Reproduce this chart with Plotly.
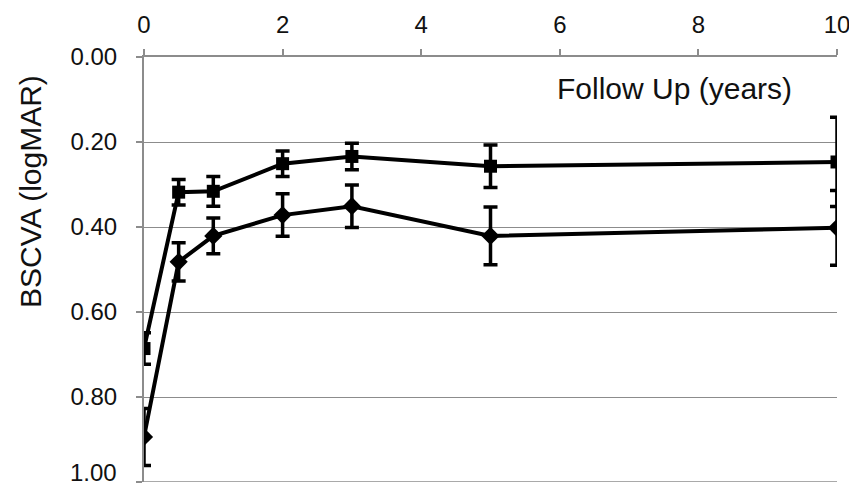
import plotly.graph_objects as go

years = [0, 0.5, 1, 2, 3, 5, 10]
square_vals = [0.686, 0.318, 0.316, 0.251, 0.234, 0.257, 0.247]
square_err = [0.037, 0.030, 0.035, 0.030, 0.031, 0.050, 0.105]
diamond_vals = [0.894, 0.482, 0.421, 0.372, 0.351, 0.421, 0.402]
diamond_err = [0.067, 0.045, 0.042, 0.050, 0.050, 0.068, 0.088]

x_ticks = [0, 2, 4, 6, 8, 10]
y_ticks = [0.0, 0.2, 0.4, 0.6, 0.8, 1.0]
y_ticktext = ["0.00", "0.20", "0.40", "0.60", "0.80", "1.00"]

FONT = "Liberation Sans, Arial, sans-serif"
GRID = "#8c8c8c"

# page offset from default body margin
OFF = 8
W, H = 857 - OFF, 492 - OFF
L, T = 144 - OFF, 57 - OFF
R = W - (837 - OFF)
B = H - (482 - OFF)

fig = go.Figure()
fig.add_trace(go.Scatter(
    x=years, y=diamond_vals, mode="lines+markers",
    line=dict(color="black", width=4),
    marker=dict(symbol="diamond", size=14, color="black"),
    error_y=dict(type="data", array=diamond_err, color="black", thickness=3.5, width=7),
    showlegend=False,
))
fig.add_trace(go.Scatter(
    x=years, y=square_vals, mode="lines+markers",
    line=dict(color="black", width=4),
    marker=dict(symbol="square", size=13, color="black"),
    error_y=dict(type="data", array=square_err, color="black", thickness=3.5, width=7),
    showlegend=False,
))

# last y label drawn separately (lifted so it stays inside the picture, as in the reference)
axis_ticktext = y_ticktext[:-1] + [""]

fig.update_layout(
    width=W, height=H,
    margin=dict(l=L, r=R, t=T, b=B, autoexpand=False),
    paper_bgcolor="white", plot_bgcolor="white",
    font=dict(family=FONT, size=24, color="#111"),
    xaxis=dict(
        side="top", range=[0, 10], tickvals=x_ticks, ticktext=[str(v) for v in x_ticks],
        showgrid=False, zeroline=False,
        showline=True, linecolor=GRID, linewidth=2,
        ticks="outside", ticklen=6, tickcolor=GRID, tickwidth=2,
        ticklabelstandoff=6, ticklabeloverflow="allow",
        tickfont=dict(family=FONT, size=24, color="#111"),
    ),
    yaxis=dict(
        range=[1.0, 0.0], tickvals=y_ticks, ticktext=axis_ticktext,
        showgrid=True, gridcolor=GRID, gridwidth=1.3,
        zeroline=False,
        showline=True, linecolor=GRID, linewidth=2,
        ticks="outside", ticklen=6, tickcolor=GRID, tickwidth=2,
        ticklabelstandoff=14, ticklabeloverflow="allow",
        tickfont=dict(family=FONT, size=24, color="#111"),
    ),
)

# bottom gridline at the axis end (plotly clips edge gridlines)
fig.add_shape(type="line", xref="paper", yref="y", x0=0, x1=1, y0=y_ticks[-1], y1=y_ticks[-1],
              line=dict(color=GRID, width=1.3), layer="below")

fig.add_annotation(text=y_ticktext[-1], x=0, y=y_ticks[-1], xref="paper", yref="y",
                   xanchor="right", yanchor="middle", xshift=-25, yshift=10,
                   showarrow=False, font=dict(family=FONT, size=24, color="#111"))

pw = W - L - R
ph = H - T - B

def px_to_paper(xp, yp):
    return ((xp - OFF) - L) / pw, 1 - ((yp - OFF) - T) / ph

ax, ay = px_to_paper(674, 88)
fig.add_annotation(text="Follow Up (years)", x=ax, y=ay, xref="paper", yref="paper",
                   xanchor="center", yanchor="middle",
                   showarrow=False, font=dict(family=FONT, size=30, color="#111"))
bx, by = px_to_paper(30, 192)
fig.add_annotation(text="BSCVA (logMAR)", x=bx, y=by, xref="paper", yref="paper",
                   xanchor="center", yanchor="middle",
                   textangle=-90, showarrow=False, font=dict(family=FONT, size=30, color="#111"))

fig.write_html("out.html")
